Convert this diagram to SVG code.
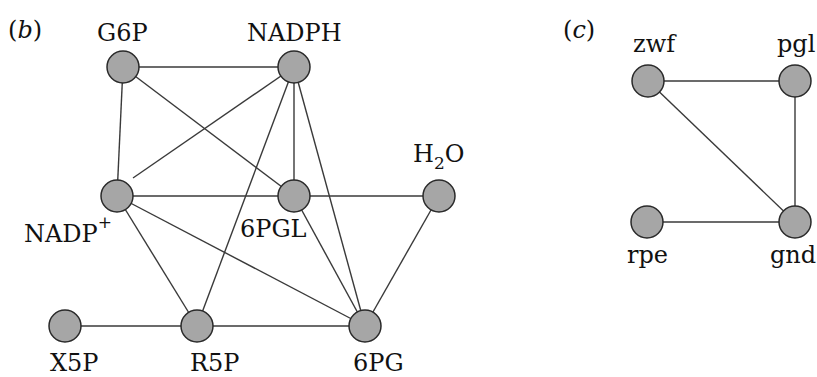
<svg xmlns="http://www.w3.org/2000/svg" width="817" height="377" viewBox="0 0 817 377">
  <style>
    .edge { stroke: #3a3a3a; stroke-width: 1.4; fill: none; }
    .node circle { fill: #a6a6a6; stroke: #2a2a2a; stroke-width: 1.5; }
    text { font-family: 'DejaVu Serif', 'Liberation Serif', serif; font-size: 24px; fill: #111; }
    .panel { font-style: italic; }
  </style>

  <!-- panel labels -->
  <text x="8" y="38">(<tspan class="panel">b</tspan>)</text>
  <text x="563" y="38">(<tspan class="panel">c</tspan>)</text>

  <!-- connectors, panel b -->
  <g id="edges-b">
    <line class="edge" x1="123" y1="67" x2="294" y2="67"/>
    <line class="edge" x1="123" y1="67" x2="117" y2="196"/>
    <line class="edge" x1="123" y1="67" x2="294" y2="196"/>
    <line class="edge" x1="294" y1="67" x2="133" y2="178"/>
    <line class="edge" x1="294" y1="67" x2="197" y2="326"/>
    <line class="edge" x1="294" y1="67" x2="294" y2="196"/>
    <line class="edge" x1="294" y1="67" x2="365" y2="326"/>
    <line class="edge" x1="117" y1="196" x2="439" y2="196"/>
    <line class="edge" x1="117" y1="196" x2="197" y2="326"/>
    <line class="edge" x1="117" y1="196" x2="365" y2="326"/>
    <line class="edge" x1="294" y1="196" x2="365" y2="326"/>
    <line class="edge" x1="439" y1="196" x2="365" y2="326"/>
    <line class="edge" x1="65" y1="326" x2="365" y2="326"/>
  </g>

  <!-- connectors, panel c -->
  <g id="edges-c">
    <line class="edge" x1="648" y1="81" x2="795" y2="81"/>
    <line class="edge" x1="648" y1="81" x2="795" y2="222"/>
    <line class="edge" x1="795" y1="81" x2="795" y2="222"/>
    <line class="edge" x1="647" y1="222" x2="795" y2="222"/>
  </g>

  <!-- nodes, panel b -->
  <g id="G6P" class="node"><circle cx="123" cy="67" r="16"/><text x="97" y="41">G6P</text></g>
  <g id="NADPH" class="node"><circle cx="294" cy="67" r="16"/><text x="247" y="41">NADPH</text></g>
  <g id="NADP" class="node"><circle cx="117" cy="196" r="16"/><text x="24" y="242">NADP<tspan dy="-14" font-size="17">+</tspan></text></g>
  <g id="6PGL" class="node"><circle cx="294" cy="196" r="16"/><text x="240" y="237">6PGL</text></g>
  <g id="H2O" class="node"><circle cx="439" cy="196" r="16"/><text x="413" y="162">H<tspan dy="7" font-size="17">2</tspan><tspan dy="-7">O</tspan></text></g>
  <g id="X5P" class="node"><circle cx="65" cy="326" r="16"/><text x="50" y="371">X5P</text></g>
  <g id="R5P" class="node"><circle cx="197" cy="326" r="16"/><text x="190" y="371">R5P</text></g>
  <g id="6PG" class="node"><circle cx="365" cy="326" r="16"/><text x="353" y="371">6PG</text></g>

  <!-- nodes, panel c -->
  <g id="zwf" class="node"><circle cx="648" cy="81" r="16"/><text x="633" y="52">zwf</text></g>
  <g id="pgl" class="node"><circle cx="795" cy="81" r="16"/><text x="777" y="52">pgl</text></g>
  <g id="rpe" class="node"><circle cx="647" cy="222" r="16"/><text x="627" y="263">rpe</text></g>
  <g id="gnd" class="node"><circle cx="795" cy="222" r="16"/><text x="770" y="263">gnd</text></g>
</svg>
